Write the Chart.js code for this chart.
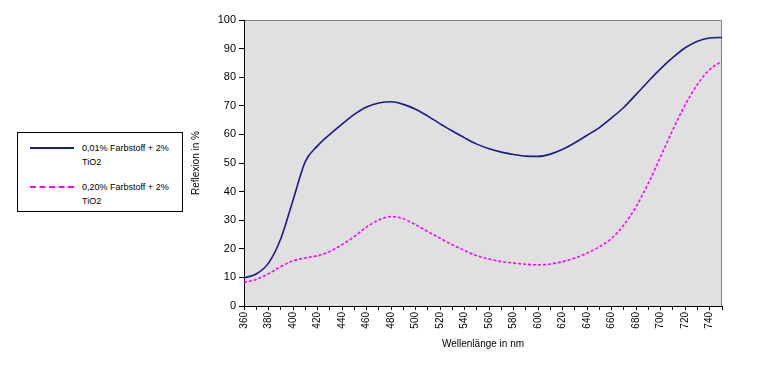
<!DOCTYPE html>
<html>
<head>
<meta charset="utf-8">
<script src="https://cdn.jsdelivr.net/npm/chart.js@4.4.1/dist/chart.umd.min.js"></script>
<style>
  html, body { margin: 0; padding: 0; background: #fff; }
  #wrap { position: relative; width: 762px; height: 366px; }
  #legend {
    position: absolute; left: 17px; top: 132px; width: 164px; height: 78px;
    border: 1px solid #000; background: #fff;
    font-family: "Liberation Sans", Arial, sans-serif; font-size: 9px; color: #000;
  }
  .item { position: absolute; left: 12px; display: flex; align-items: flex-start; }
  .swatch { width: 44px; height: 0; margin-top: 6px; margin-right: 8px; }
  .txt { line-height: 14px; }
</style>
</head>
<body>
<div id="wrap">
  <canvas id="chart" width="762" height="366"></canvas>
  <div id="legend">
    <div class="item" style="top:8px"><div class="swatch" style="border-top:2px solid #1a1a8a"></div><div class="txt">0,01% Farbstoff + 2%<br>TiO2</div></div>
    <div class="item" style="top:47px"><div class="swatch" style="border-top:2px dashed #ff00ff"></div><div class="txt">0,20% Farbstoff + 2%<br>TiO2</div></div>
  </div>
</div>
<script>
// Wellenlänge (nm)
const wavelengths = [360,370,380,390,400,410,420,430,440,450,460,470,480,490,500,510,520,530,540,550,
                     560,570,580,590,600,610,620,630,640,650,660,670,680,690,700,710,720,730,740,750];
// 0,01% Farbstoff + 2% TiO2
const seriesLow = [9.8,11.2,15,23.5,37,50.5,56,60,63.6,67,69.6,71,71.4,70.5,68.8,66.4,63.7,61.2,58.8,56.6,
                   55,53.8,53,52.4,52.3,53.1,54.8,57.1,59.7,62.4,65.8,69.5,74,78.6,83,86.9,90.3,92.6,93.7,93.9];
// 0,20% Farbstoff + 2% TiO2
const seriesHigh = [8.2,9.3,11.3,13.8,15.8,16.8,17.6,19.1,21.4,24.3,27.6,30.1,31.3,30.5,28.4,26,23.7,21.4,19.4,17.6,
                    16.4,15.5,15,14.6,14.4,14.7,15.5,16.8,18.5,20.7,23.7,28.4,34.8,43,52.3,61.7,70.4,77.5,82.7,85.6];

const toXY = (vals) => vals.map((v, i) => ({ x: wavelengths[i], y: v }));

const FONT = "'Liberation Sans', Arial, sans-serif";

// Grauer Hintergrund der Zeichenfläche
const plotBg = {
    id: 'plotBg',
    beforeDraw(chart) {
        const { ctx, chartArea: a } = chart;
        ctx.save();
        ctx.fillStyle = '#e0e0e0';
        ctx.fillRect(a.left, a.top, a.right - a.left, a.bottom - a.top);
        ctx.strokeStyle = '#808080';
        ctx.lineWidth = 1;
        ctx.beginPath();
        ctx.moveTo(a.left, a.top + 0.5);
        ctx.lineTo(a.right - 0.5, a.top + 0.5);
        ctx.lineTo(a.right - 0.5, a.bottom);
        ctx.stroke();
        ctx.restore();
    }
};

new Chart(document.getElementById('chart'), {
    type: 'line',
    data: {
        datasets: [{
            label: '0,01% Farbstoff + 2% TiO2',
            data: toXY(seriesLow),
            borderColor: '#1a1a8a',
            borderWidth: 1.6,
            pointRadius: 0,
            cubicInterpolationMode: 'monotone',
            fill: false
        }, {
            label: '0,20% Farbstoff + 2% TiO2',
            data: toXY(seriesHigh),
            borderColor: '#ff00ff',
            borderWidth: 1.6,
            borderDash: [3, 2],
            pointRadius: 0,
            cubicInterpolationMode: 'monotone',
            fill: false
        }]
    },
    options: {
        responsive: false,
        animation: false,
        layout: { padding: { left: 190, right: 40, top: 20, bottom: 16 } },
        plugins: { legend: { display: false }, tooltip: { enabled: false } },
        scales: {
            x: {
                type: 'linear', min: 360, max: 750,
                afterFit: (s) => { s.height = 44; },
                border: { color: '#000', width: 1 },
                grid: { drawOnChartArea: false, drawTicks: true, tickLength: 4, color: '#000' },
                ticks: {
                    stepSize: 10, autoSkip: false, minRotation: 90, maxRotation: 90,
                    color: '#000', font: { family: FONT, size: 10 }, padding: 2,
                    callback: (v) => (v % 20 === 0 && v < 750 ? v : '')
                },
                title: { display: true, text: 'Wellenlänge in nm', color: '#000', font: { family: FONT, size: 10 }, padding: 0 }
            },
            y: {
                min: 0, max: 100,
                afterFit: (s) => { s.width = 54; },
                border: { color: '#000', width: 1 },
                grid: { drawOnChartArea: false, drawTicks: true, tickLength: 5, color: '#000' },
                ticks: { stepSize: 10, color: '#000', font: { family: FONT, size: 11 }, padding: 3 },
                title: { display: true, text: 'Reflexion in %', color: '#000', font: { family: FONT, size: 10 }, padding: { top: 0, bottom: 0 } }
            }
        }
    },
    plugins: [plotBg]
});
</script>
</body>
</html>
